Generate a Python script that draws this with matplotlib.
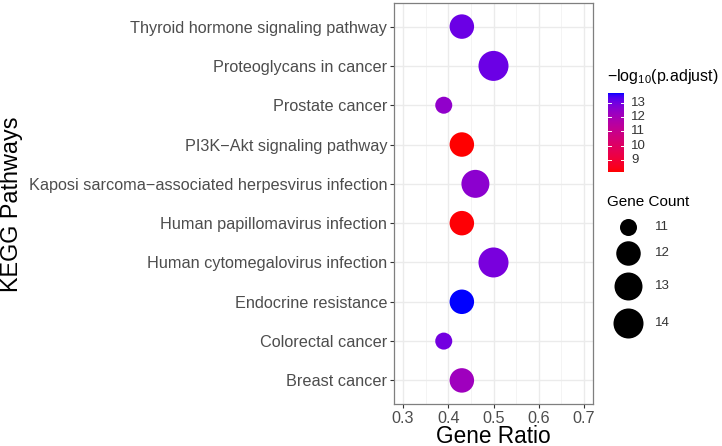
import numpy as np
import matplotlib
matplotlib.use("Agg")
import matplotlib.pyplot as plt
from matplotlib.colors import ListedColormap, Normalize
from matplotlib.lines import Line2D

plt.rcParams['font.family'] = ['Liberation Sans', 'DejaVu Sans']
plt.rcParams['mathtext.fontset'] = 'custom'
plt.rcParams['mathtext.rm'] = 'Liberation Sans'
plt.rcParams['mathtext.it'] = 'Liberation Sans'

# data, bottom to top
pathways = ["Breast cancer", "Colorectal cancer", "Endocrine resistance",
            "Human cytomegalovirus infection", "Human papillomavirus infection",
            "Kaposi sarcoma\u2212associated herpesvirus infection",
            "PI3K\u2212Akt signaling pathway", "Prostate cancer",
            "Proteoglycans in cancer", "Thyroid hormone signaling pathway"]
gene_ratio = [0.43, 0.39, 0.43, 0.50, 0.43, 0.46, 0.43, 0.39, 0.50, 0.43]
gene_count = [12, 11, 12, 14, 12, 13, 12, 11, 14, 12]
neg_log_padj = [12.2, 13.0, 13.7, 12.9, 8.2, 12.6, 8.15, 12.5, 13.1, 13.1]
count_breaks = [11, 12, 13, 14]
color_breaks = [9, 10, 11, 12, 13]


# red -> blue gradient interpolated in Lab (like ggplot)
def srgb_to_lab(rgb):
    c = np.array(rgb, float)
    c = np.where(c <= 0.04045, c / 12.92, ((c + 0.055) / 1.055) ** 2.4)
    m = np.array([[0.4124, 0.3576, 0.1805], [0.2126, 0.7152, 0.0722], [0.0193, 0.1192, 0.9505]])
    xyz = m @ c / np.array([0.95047, 1.0, 1.08883])
    f = np.where(xyz > 0.008856, np.cbrt(xyz), 7.787 * xyz + 16 / 116)
    return np.array([116 * f[1] - 16, 500 * (f[0] - f[1]), 200 * (f[1] - f[2])])


def lab_to_srgb(lab):
    fy = (lab[0] + 16) / 116
    fx = fy + lab[1] / 500
    fz = fy - lab[2] / 200
    f = np.array([fx, fy, fz])
    xyz = np.where(f ** 3 > 0.008856, f ** 3, (f - 16 / 116) / 7.787) * np.array([0.95047, 1.0, 1.08883])
    mi = np.array([[3.2406, -1.5372, -0.4986], [-0.9689, 1.8758, 0.0415], [0.0557, -0.2040, 1.0570]])
    c = mi @ xyz
    c = np.where(c <= 0.0031308, 12.92 * c, 1.055 * np.clip(c, 0, None) ** (1 / 2.4) - 0.055)
    return np.clip(c, 0, 1)


lo, hi = srgb_to_lab([1, 0, 0]), srgb_to_lab([0, 0, 1])
cmap = ListedColormap([lab_to_srgb(lo + t * (hi - lo)) for t in np.linspace(0, 1, 256)])
norm = Normalize(min(neg_log_padj), max(neg_log_padj))


def size_of(n):
    # marker area in pt^2
    return np.interp(n, [11, 12, 13, 14], [150, 311, 406, 467])


fig = plt.figure(figsize=(7.22, 4.46), dpi=100)
ax = fig.add_axes([394 / 722, 1 - 404 / 446, 199 / 722, 401 / 446])

y = np.arange(1, len(pathways) + 1)
ax.scatter(gene_ratio, y, s=size_of(np.array(gene_count)), c=neg_log_padj,
           cmap=cmap, norm=norm, linewidths=0, zorder=3)

ax.set_xlim(0.28, 0.72)
ax.set_ylim(0.4, len(pathways) + 0.6)
ax.set_xticks([0.3, 0.4, 0.5, 0.6, 0.7])
ax.set_xticklabels(["0.3", "0.4", "0.5", "0.6", "0.7"])
ax.set_xticks([0.35, 0.45, 0.55, 0.65], minor=True)
ax.set_yticks(y)
ax.set_yticklabels(pathways)
ax.grid(True, which='major', color='#EBEBEB', lw=1.0, zorder=0)
ax.grid(True, which='minor', axis='x', color='#F2F2F2', lw=0.6, zorder=0)
ax.tick_params(which='major', length=3, width=0.8, color='#333333',
               labelsize=11.7, labelcolor='#4D4D4D', pad=2)
ax.tick_params(which='minor', length=0)
for sp in ax.spines.values():
    sp.set_color('#7F7F7F')
    sp.set_linewidth(0.9)
ax.set_axisbelow(True)

fig.text(493 / 722, 3 / 446, "Gene Ratio", fontsize=16.3, ha='center', va='baseline')
fig.text(12 / 722, 1 - 204 / 446, "KEGG Pathways",
         rotation=90, fontsize=16.8, ha='center', va='center')

# colour legend
fig.text(607 / 722, 1 - 77 / 446, r"$-$log$_{10}$(p.adjust)", fontsize=11.5, va='center', ha='left')
cax = fig.add_axes([608 / 722, 1 - 172 / 446, 16 / 722, 79 / 446])
grad = np.linspace(norm.vmin, norm.vmax, 200).reshape(-1, 1)
cax.imshow(grad, aspect='auto', origin='lower', cmap=cmap, norm=norm,
           extent=[0, 1, norm.vmin, norm.vmax])
cax.set_xlim(0, 1)
cax.set_ylim(norm.vmin, norm.vmax)
for v in color_breaks:
    cax.plot([0, 0.2], [v, v], color='white', lw=0.7)
    cax.plot([0.8, 1], [v, v], color='white', lw=0.7)
    fig.text(631 / 722, cax.transData.transform((0, v))[1] / 446, str(v),
             fontsize=9.5, color='#333333', va='center', ha='left')
cax.set_xticks([])
cax.set_yticks([])
for sp in cax.spines.values():
    sp.set_visible(False)

# size legend
fig.text(607 / 722, 1 - 202 / 446, "Gene Count", fontsize=11, va='center', ha='left')
leg_y = [227, 253, 286, 323]
for n, yy in zip(count_breaks, leg_y):
    fig.add_artist(Line2D([628 / 722], [1 - yy / 446], marker='o', markersize=np.sqrt(size_of(n)),
                          color='black', markeredgewidth=0, transform=fig.transFigure))
    fig.text(655 / 722, 1 - yy / 446, str(n), fontsize=9.5, color='#333333', va='center', ha='left')

fig.savefig("out.png", dpi=100)
